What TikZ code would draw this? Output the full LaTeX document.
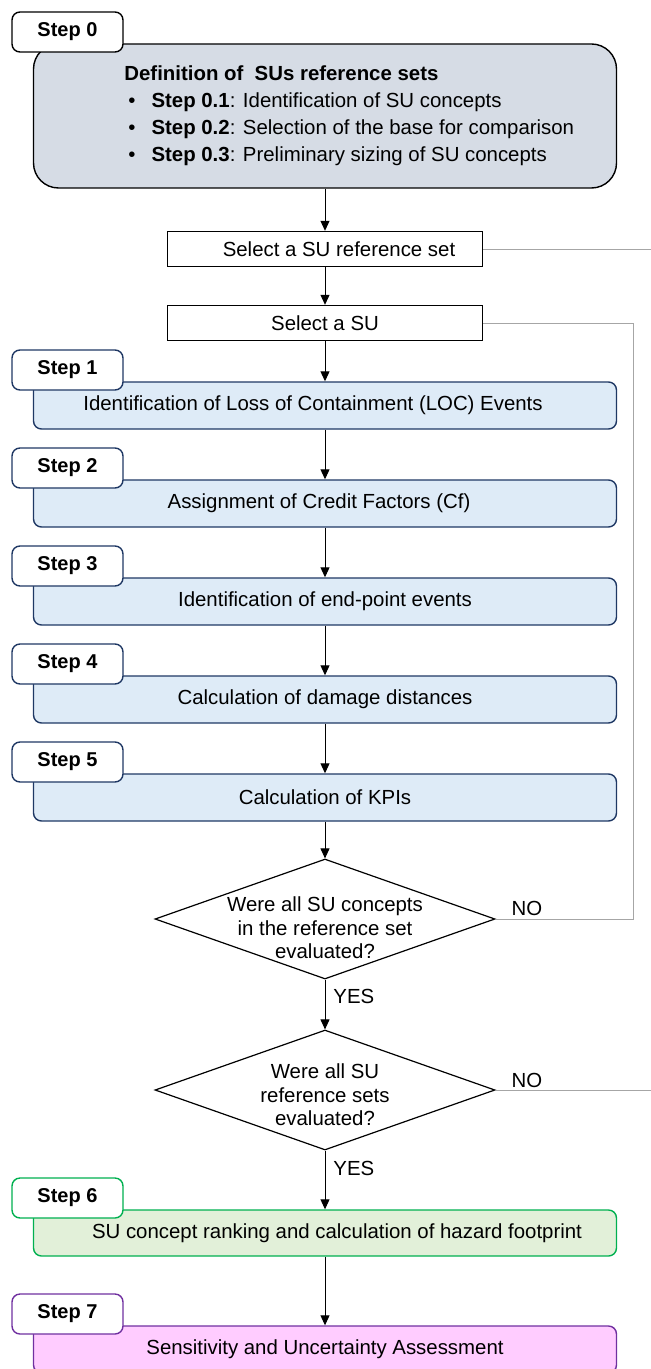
\documentclass[tikz,border=0pt]{standalone}
\usepackage{fontspec}
\setmainfont{Liberation Sans}
\usetikzlibrary{arrows.meta,positioning,shapes.geometric}
\definecolor{stepgray}{HTML}{D6DCE5}
\definecolor{stepblue}{HTML}{DEEBF7}
\definecolor{bluedraw}{HTML}{1F3864}
\definecolor{stepgreen}{HTML}{E2F0D9}
\definecolor{greendraw}{HTML}{00B050}
\definecolor{steppink}{HTML}{FFCCFF}
\definecolor{purpledraw}{HTML}{7030A0}
\definecolor{linegray}{HTML}{A6A6A6}
\tikzset{%
	steptab/.style   = {draw, rectangle, rounded corners=4pt, fill=white, minimum width=55.5pt, minimum height=20pt, font=\bfseries, line width=0.7pt},
	stepbox/.style   = {draw, rectangle, rounded corners=4pt, minimum width=291.5pt, minimum height=23.5pt, text centered, line width=0.7pt},
	selectbox/.style = {draw, rectangle, minimum width=157.5pt, minimum height=17.5pt, text centered, line width=0.7pt},
	decision/.style  = {draw, diamond, minimum width=170pt, minimum height=60pt, inner sep=0pt, line width=0.6pt},
	arrow/.style     = {line width=0.5pt, -{Triangle[length=5pt,width=4.5pt]}},
	backline/.style  = {draw=linegray, line width=0.4pt},
}
\begin{document}
\begin{tikzpicture}[x=0.5pt,y=-0.5pt,font=\fontsize{10.2}{11.75}\selectfont]
	\useasboundingbox (0,0) rectangle (651,1369);
	\clip (0,0) rectangle (651,1369);
	% Step 0
	\node[draw, rounded corners=12.5pt, fill=stepgray, minimum width=291.5pt, minimum height=72pt, line width=0.7pt] (b0) at (325,116) {};
	\node[anchor=west, align=left, inner sep=0pt, font=\fontsize{10.2}{13.5}\selectfont] (b0text) at (124,116) {\textbf{Definition of~ SUs reference sets}\\
		\hspace*{2pt}•\hspace{8pt}\textbf{Step 0.1}: Identification of SU concepts\\
		\hspace*{2pt}•\hspace{8pt}\textbf{Step 0.2}: Selection of the base for comparison\\
		\hspace*{2pt}•\hspace{8pt}\textbf{Step 0.3}: Preliminary sizing of SU concepts};
	\node[steptab] (t0) at (67.5,32) {Step 0};
	% selection
	\node[selectbox] (refset) at (325,249) {\hspace*{14pt}Select a SU reference set};
	\node[selectbox] (selsu) at (325,323) {Select a SU};
	% Steps 1-5
	\node[stepbox, fill=stepblue, draw=bluedraw] (b1) at (325,405.5) {Identification of Loss of Containment (LOC) Events\hspace*{12pt}};
	\node[steptab, draw=bluedraw] (t1) at (67.5,370) {Step 1};
	\node[stepbox, fill=stepblue, draw=bluedraw] (b2) at (325,503.5) {Assignment of Credit Factors (Cf)\hspace*{6pt}};
	\node[steptab, draw=bluedraw] (t2) at (67.5,468) {Step 2};
	\node[stepbox, fill=stepblue, draw=bluedraw] (b3) at (325,601.5) {Identification of end-point events};
	\node[steptab, draw=bluedraw] (t3) at (67.5,566) {Step 3};
	\node[stepbox, fill=stepblue, draw=bluedraw] (b4) at (325,699.5) {Calculation of damage distances};
	\node[steptab, draw=bluedraw] (t4) at (67.5,664) {Step 4};
	\node[stepbox, fill=stepblue, draw=bluedraw] (b5) at (325,797.5) {Calculation of KPIs};
	\node[steptab, draw=bluedraw] (t5) at (67.5,762) {Step 5};
	% checks
	\node[decision] (q1) at (325,919) {};
	\node[align=center] (q1text) at (325,928) {Were all SU concepts\\in the reference set\\evaluated?};
	\node (no1) at (527,908) {NO};
	\node[anchor=west, inner sep=0pt] (yes1) at (333,996) {YES};
	\node[decision] (q2) at (325,1090) {};
	\node[align=center] (q2text) at (325,1095) {Were all SU\\reference sets\\evaluated?};
	\node (no2) at (527,1080) {NO};
	\node[anchor=west, inner sep=0pt] (yes2) at (333,1168) {YES};
	% Steps 6-7
	\node[stepbox, fill=stepgreen, draw=greendraw, minimum height=23pt] (b6) at (325,1233) {\hspace*{12pt}SU concept ranking and calculation of hazard footprint};
	\node[steptab, draw=greendraw] (t6) at (67.5,1198) {Step 6};
	\node[stepbox, fill=steppink, draw=purpledraw] (b7) at (325,1349.5) {Sensitivity and Uncertainty Assessment};
	\node[steptab, draw=purpledraw] (t7) at (67.5,1314) {Step 7};
	% loops back
	\draw[backline] (refset.east) -- (651,249);
	\draw[backline] (selsu.east) -- (633,323) |- (q1.east);
	\draw[backline] (q2.east) -- (651,1090);
	% main flow
	\draw[arrow] (b0) -- (refset);
	\draw[arrow] (refset) -- (selsu);
	\draw[arrow] (selsu) -- (b1);
	\draw[arrow] (b1) -- (b2);
	\draw[arrow] (b2) -- (b3);
	\draw[arrow] (b3) -- (b4);
	\draw[arrow] (b4) -- (b5);
	\draw[arrow] (b5) -- (q1);
	\draw[arrow] (q1) -- (q2);
	\draw[arrow] (q2) -- (b6);
	\draw[arrow] (b6) -- (b7);
\end{tikzpicture}
\end{document}
